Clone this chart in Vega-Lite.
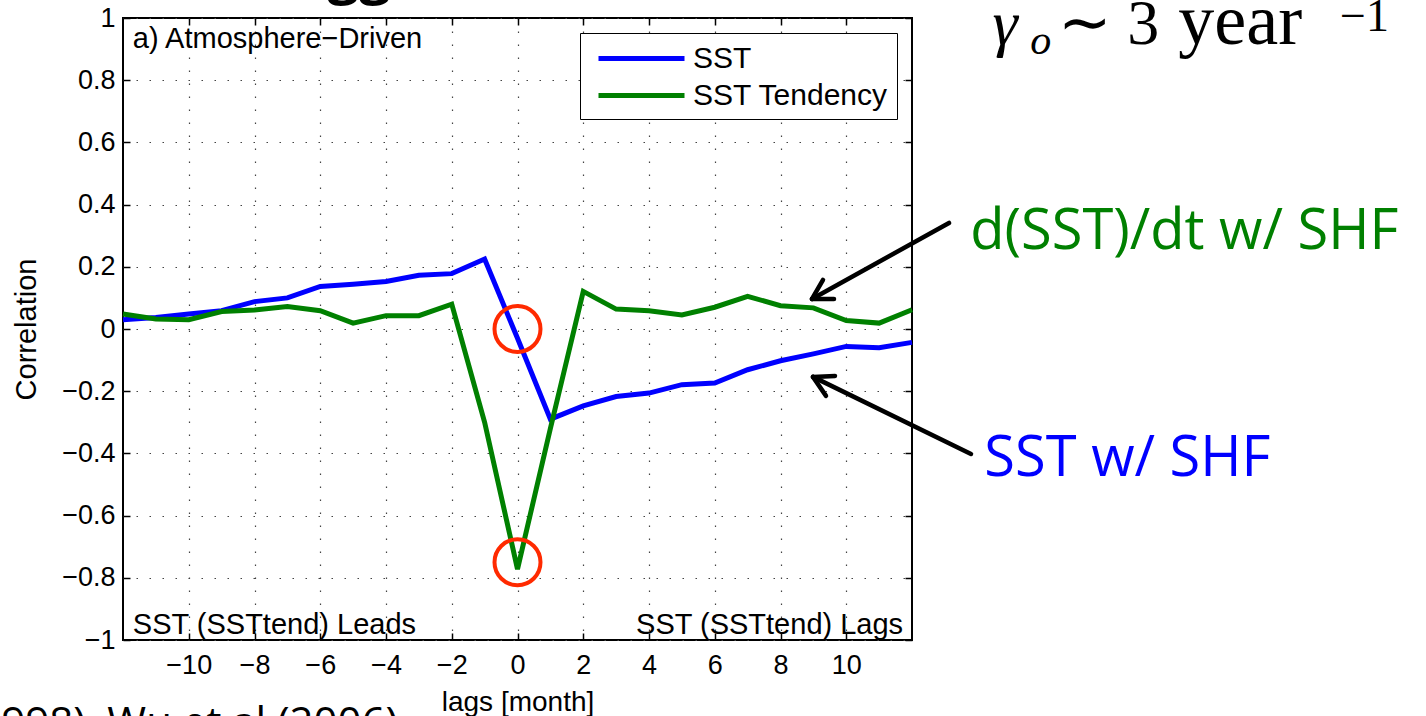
{
  "$schema": "https://vega.github.io/schema/vega-lite/v6.json",
  "width": 789,
  "height": 622,
  "autosize": {"type": "none"},
  "padding": {"left": 123, "top": 18, "right": 514, "bottom": 76},
  "background": "white",
  "config": {
    "view": {"stroke": "black", "strokeWidth": 2},
    "axis": {
      "domain": false,
      "labelFont": "Liberation Sans",
      "labelFontSize": 27,
      "labelColor": "black",
      "titleFont": "Liberation Sans",
      "titleFontWeight": "normal",
      "titleColor": "black",
      "tickColor": "black",
      "tickWidth": 1.5,
      "tickSize": -7,
      "gridColor": "#444444",
      "gridWidth": 1.2,
      "gridDash": [1.5, 11.5]
    },
    "legend": {
      "orient": "top-right",
      "offset": 15,
      "strokeColor": "black",
      "fillColor": "white",
      "padding": 8,
      "symbolType": "M-2.867,0H2.867",
      "symbolStrokeWidth": 5,
      "symbolSize": 900,
      "symbolOffset": 36,
      "labelFont": "Liberation Sans",
      "labelFontSize": 30,
      "labelColor": "black",
      "labelOffset": 34,
      "labelLimit": 400,
      "rowPadding": 4
    }
  },
  "layer": [
    {
      "data": {
        "values": [
          {"lag": -12, "series": "SST", "r": 0.03},
          {"lag": -11, "series": "SST", "r": 0.037},
          {"lag": -10, "series": "SST", "r": 0.048},
          {"lag": -9, "series": "SST", "r": 0.059},
          {"lag": -8, "series": "SST", "r": 0.088},
          {"lag": -7, "series": "SST", "r": 0.1},
          {"lag": -6, "series": "SST", "r": 0.137},
          {"lag": -5, "series": "SST", "r": 0.144},
          {"lag": -4, "series": "SST", "r": 0.153},
          {"lag": -3, "series": "SST", "r": 0.173},
          {"lag": -2, "series": "SST", "r": 0.178},
          {"lag": -1, "series": "SST", "r": 0.225},
          {"lag": 0, "series": "SST", "r": -0.03},
          {"lag": 1, "series": "SST", "r": -0.29},
          {"lag": 2, "series": "SST", "r": -0.247},
          {"lag": 3, "series": "SST", "r": -0.217},
          {"lag": 4, "series": "SST", "r": -0.206},
          {"lag": 5, "series": "SST", "r": -0.179},
          {"lag": 6, "series": "SST", "r": -0.174},
          {"lag": 7, "series": "SST", "r": -0.131},
          {"lag": 8, "series": "SST", "r": -0.102},
          {"lag": 9, "series": "SST", "r": -0.08},
          {"lag": 10, "series": "SST", "r": -0.056},
          {"lag": 11, "series": "SST", "r": -0.06},
          {"lag": 12, "series": "SST", "r": -0.043},
          {"lag": -12, "series": "SST Tendency", "r": 0.048},
          {"lag": -11, "series": "SST Tendency", "r": 0.032},
          {"lag": -10, "series": "SST Tendency", "r": 0.03},
          {"lag": -9, "series": "SST Tendency", "r": 0.056},
          {"lag": -8, "series": "SST Tendency", "r": 0.061},
          {"lag": -7, "series": "SST Tendency", "r": 0.072},
          {"lag": -6, "series": "SST Tendency", "r": 0.059},
          {"lag": -5, "series": "SST Tendency", "r": 0.019},
          {"lag": -4, "series": "SST Tendency", "r": 0.043},
          {"lag": -3, "series": "SST Tendency", "r": 0.043},
          {"lag": -2, "series": "SST Tendency", "r": 0.08},
          {"lag": -1, "series": "SST Tendency", "r": -0.3},
          {"lag": 0, "series": "SST Tendency", "r": -0.772},
          {"lag": 1, "series": "SST Tendency", "r": -0.32},
          {"lag": 2, "series": "SST Tendency", "r": 0.121},
          {"lag": 3, "series": "SST Tendency", "r": 0.064},
          {"lag": 4, "series": "SST Tendency", "r": 0.059},
          {"lag": 5, "series": "SST Tendency", "r": 0.045},
          {"lag": 6, "series": "SST Tendency", "r": 0.07},
          {"lag": 7, "series": "SST Tendency", "r": 0.105},
          {"lag": 8, "series": "SST Tendency", "r": 0.075},
          {"lag": 9, "series": "SST Tendency", "r": 0.068},
          {"lag": 10, "series": "SST Tendency", "r": 0.027},
          {"lag": 11, "series": "SST Tendency", "r": 0.019},
          {"lag": 12, "series": "SST Tendency", "r": 0.062}
        ]
      },
      "mark": {"type": "line", "strokeWidth": 5, "strokeJoin": "miter"},
      "encoding": {
        "x": {
          "field": "lag", "type": "quantitative",
          "scale": {"domain": [-12, 12], "nice": false, "zero": false},
          "axis": {
            "orient": "bottom",
            "title": "lags [month]",
            "titleFontSize": 28,
            "titlePadding": 10,
            "values": [-10, -8, -6, -4, -2, 0, 2, 4, 6, 8, 10],
            "format": "~g",
            "labelPadding": 19,
            "grid": true
          }
        },
        "y": {
          "field": "r", "type": "quantitative",
          "scale": {"domain": [-1, 1], "nice": false, "zero": false},
          "axis": {
            "orient": "left",
            "title": "Correlation",
            "titleFontSize": 29,
            "titlePadding": 20,
            "values": [-1, -0.8, -0.6, -0.4, -0.2, 0, 0.2, 0.4, 0.6, 0.8, 1],
            "format": "~g",
            "labelPadding": 15,
            "grid": true
          }
        },
        "color": {
          "field": "series", "type": "nominal",
          "scale": {"domain": ["SST", "SST Tendency"], "range": ["#0000ff", "#008000"]},
          "legend": {"title": null}
        }
      }
    },
    {
      "data": {"values": [{"lag": 0, "r": 0}, {"lag": 0, "r": -0.75}]},
      "mark": {"type": "point", "shape": "circle", "filled": false, "stroke": "#ff2a00", "strokeWidth": 4, "size": 2116, "opacity": 1},
      "encoding": {
        "x": {"field": "lag", "type": "quantitative", "scale": {"domain": [-12, 12], "nice": false, "zero": false},
          "axis": {"orient": "top", "title": null, "labels": false, "grid": false, "values": [-10, -8, -6, -4, -2, 0, 2, 4, 6, 8, 10]}},
        "y": {"field": "r", "type": "quantitative", "scale": {"domain": [-1, 1], "nice": false, "zero": false},
          "axis": {"orient": "right", "title": null, "labels": false, "grid": false, "values": [-1, -0.8, -0.6, -0.4, -0.2, 0, 0.2, 0.4, 0.6, 0.8, 1]}}
      }
    },
    {
      "data": {"values": [{"x": -11.7, "y": 0.932, "label": "a) Atmosphere−Driven"}, {"x": -11.7, "y": -0.952, "label": "SST (SSTtend) Leads"}]},
      "mark": {"type": "text", "align": "left", "baseline": "middle", "font": "Liberation Sans", "fontSize": 29, "color": "black"},
      "encoding": {
        "x": {"field": "x", "type": "quantitative", "axis": null},
        "y": {"field": "y", "type": "quantitative", "axis": null},
        "text": {"field": "label"}
      }
    },
    {
      "data": {"values": [{"x": 11.73, "y": -0.952, "label": "SST (SSTtend) Lags"}]},
      "mark": {"type": "text", "align": "right", "baseline": "middle", "font": "Liberation Sans", "fontSize": 29, "color": "black"},
      "encoding": {
        "x": {"field": "x", "type": "quantitative", "axis": null},
        "y": {"field": "y", "type": "quantitative", "axis": null},
        "text": {"field": "label"}
      }
    },
    {
      "data": {"values": [
        {"x": 13.125, "y": 0.341, "x2": 8.958, "y2": 0.0965},
        {"x": 8.958, "y": 0.0965, "x2": 9.293, "y2": 0.158},
        {"x": 8.958, "y": 0.0965, "x2": 9.627, "y2": 0.0965},
        {"x": 13.795, "y": -0.402, "x2": 8.988, "y2": -0.154},
        {"x": 8.988, "y": -0.154, "x2": 9.658, "y2": -0.151},
        {"x": 8.988, "y": -0.154, "x2": 9.384, "y2": -0.215}
      ]},
      "mark": {"type": "rule", "color": "black", "strokeWidth": 4.5, "strokeCap": "round", "clip": false},
      "encoding": {
        "x": {"field": "x", "type": "quantitative", "axis": null},
        "y": {"field": "y", "type": "quantitative", "axis": null},
        "x2": {"field": "x2"},
        "y2": {"field": "y2"}
      }
    },
    {
      "data": {"values": [{"x": 13.77, "y": 0.258, "label": "d(SST)/dt w/ SHF"}]},
      "mark": {"type": "text", "align": "left", "baseline": "alphabetic", "font": "Open Sans", "fontSize": 56, "color": "#008000"},
      "encoding": {
        "x": {"field": "x", "type": "quantitative", "axis": null},
        "y": {"field": "y", "type": "quantitative", "axis": null},
        "text": {"field": "label"}
      }
    },
    {
      "data": {"values": [{"x": 14.2, "y": -0.473, "label": "SST w/ SHF"}]},
      "mark": {"type": "text", "align": "left", "baseline": "alphabetic", "font": "Open Sans", "fontSize": 56, "color": "#0000ff"},
      "encoding": {
        "x": {"field": "x", "type": "quantitative", "axis": null},
        "y": {"field": "y", "type": "quantitative", "axis": null},
        "text": {"field": "label"}
      }
    },
    {
      "data": {"values": [{"x": 14.45, "y": 0.916, "label": "γ"}]},
      "mark": {"type": "text", "align": "left", "baseline": "alphabetic", "font": "Liberation Serif", "fontStyle": "italic", "fontSize": 64, "color": "black"},
      "encoding": {
        "x": {"field": "x", "type": "quantitative", "axis": null},
        "y": {"field": "y", "type": "quantitative", "axis": null},
        "text": {"field": "label"}
      }
    },
    {
      "data": {"values": [{"x": 15.6, "y": 0.885, "label": "o"}]},
      "mark": {"type": "text", "align": "left", "baseline": "alphabetic", "font": "Liberation Serif", "fontStyle": "italic", "fontSize": 42, "color": "black"},
      "encoding": {
        "x": {"field": "x", "type": "quantitative", "axis": null},
        "y": {"field": "y", "type": "quantitative", "axis": null},
        "text": {"field": "label"}
      }
    },
    {
      "data": {"values": [{"x": 16.45, "y": 0.916, "label": "∼"}, {"x": 18.55, "y": 0.916, "label": "3"}]},
      "mark": {"type": "text", "align": "left", "baseline": "alphabetic", "font": "Liberation Serif", "fontSize": 64, "color": "black"},
      "encoding": {
        "x": {"field": "x", "type": "quantitative", "axis": null},
        "y": {"field": "y", "type": "quantitative", "axis": null},
        "text": {"field": "label"}
      }
    },
    {
      "data": {"values": [{"x": 20.1, "y": 0.916, "label": "year"}]},
      "mark": {"type": "text", "align": "left", "baseline": "alphabetic", "font": "Liberation Serif", "fontSize": 72, "color": "black"},
      "encoding": {
        "x": {"field": "x", "type": "quantitative", "axis": null},
        "y": {"field": "y", "type": "quantitative", "axis": null},
        "text": {"field": "label"}
      }
    },
    {
      "data": {"values": [{"x": 25.02, "y": 0.958, "label": "−1"}]},
      "mark": {"type": "text", "align": "left", "baseline": "alphabetic", "font": "Liberation Serif", "fontSize": 46, "color": "black"},
      "encoding": {
        "x": {"field": "x", "type": "quantitative", "axis": null},
        "y": {"field": "y", "type": "quantitative", "axis": null},
        "text": {"field": "label"}
      }
    },
    {
      "data": {"values": [{"x": -7.77, "y": 1.08, "label": "Lagged"}]},
      "mark": {"type": "text", "align": "left", "baseline": "alphabetic", "font": "Open Sans", "fontWeight": "bold", "fontSize": 56, "color": "black"},
      "encoding": {
        "x": {"field": "x", "type": "quantitative", "axis": null},
        "y": {"field": "y", "type": "quantitative", "axis": null},
        "text": {"field": "label"}
      }
    },
    {
      "data": {"values": [{"x": -3.636, "y": -1.312, "label": "998), Wu et al (2006)"}]},
      "mark": {"type": "text", "align": "right", "baseline": "alphabetic", "font": "Open Sans", "fontSize": 42, "color": "black"},
      "encoding": {
        "x": {"field": "x", "type": "quantitative", "axis": null},
        "y": {"field": "y", "type": "quantitative", "axis": null},
        "text": {"field": "label"}
      }
    }
  ]
}
